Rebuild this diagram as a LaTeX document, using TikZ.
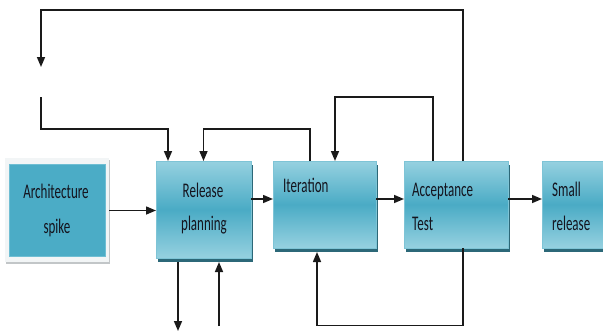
\documentclass[tikz,border=0pt]{standalone}
\usepackage{fontspec}
\setmainfont{Carlito}
\usetikzlibrary{arrows.meta,shadows}
\definecolor{boxlight}{HTML}{96D1E0}
\definecolor{boxmid}{HTML}{4AABC5}
\definecolor{boxedge}{HTML}{7EC4D6}
\definecolor{boxshadow}{HTML}{2C6878}
\definecolor{spikefill}{HTML}{4BACC6}
\definecolor{spikeedge}{HTML}{6FBED3}
\definecolor{framefill}{HTML}{F2F5F6}
\definecolor{frameshadow}{HTML}{C2C6C8}
\definecolor{ink}{HTML}{14141E}
\definecolor{wire}{HTML}{1A1A1A}
% labels are drawn tall and narrow
\newcommand\tallword[1]{\scalebox{1}[1.6]{#1}}

\begin{document}
\begin{tikzpicture}[x=1pt,y=-1pt,
  stage/.style={draw=boxedge, line width=0.8pt,
    top color=boxlight, bottom color=boxlight, middle color=boxmid,
    inner sep=0pt, outer sep=0pt,
    drop shadow={shadow xshift=2pt, shadow yshift=-4pt, fill=boxshadow, opacity=1}},
  spikeframe/.style={fill=framefill, inner sep=0pt, outer sep=0pt,
    minimum width=104pt, minimum height=104pt,
    drop shadow={shadow xshift=1pt, shadow yshift=-2pt, fill=frameshadow, opacity=1}},
  spikebox/.style={fill=spikefill, draw=spikeedge, line width=0.6pt,
    inner sep=0pt, outer sep=0pt, minimum width=96pt, minimum height=92pt},
  txt/.style={font=\fontsize{13}{15}\selectfont, text=ink, inner sep=0pt},
  wire/.style={draw=wire, line width=1.5pt},
  arr/.style={wire, -{Triangle[length=10pt,width=8pt]}}]

\useasboundingbox (0,0) rectangle (603,333);
\clip (0,0) rectangle (603,333);

% process boxes
\node[spikeframe] (archframe) at (57,210) {};
\node[spikebox] (arch) at (57,210) {};
\node[stage, minimum width=95pt, minimum height=97pt] (rel) at (203.5,209.5) {};
\node[stage, minimum width=103pt, minimum height=87pt] (iter) at (324.5,204.5) {};
\node[stage, minimum width=104pt, minimum height=87pt] (acc) at (456,204.5) {};
\node[stage, minimum width=104pt, minimum height=87pt] (small) at (594,204.5) {};

% box labels
\node[txt, anchor=base] (archA) at (56,198) {\tallword{Architecture}};
\node[txt, anchor=base] (archB) at (57,233) {\tallword{spike}};
\node[txt, anchor=base] (relA) at (203,197) {\tallword{Release}};
\node[txt, anchor=base] (relB) at (204,230) {\tallword{planning}};
\node[txt, anchor=base west] (iterA) at (283,192) {\tallword{Iteration}};
\node[txt, anchor=base west] (accA) at (412,196) {\tallword{Acceptance}};
\node[txt, anchor=base west] (accB) at (412,230) {\tallword{Test}};
\node[txt, anchor=base west] (smallA) at (552,196) {\tallword{Small}};
\node[txt, anchor=base west] (smallB) at (552,230) {\tallword{release}};

% free ends of the open connectors
\coordinate (flowrow) at (0,199);
\coordinate (spikerow) at (0,210.5);
\coordinate (loopEnd) at (41,67);
\coordinate (loopStart) at (41,97);
\coordinate (relOut) at (178,331);
\coordinate (relIn) at (219,326);

% main flow
\draw[arr] (archframe.east |- spikerow) -- (rel.west |- spikerow);
\draw[arr] (rel.east |- flowrow) -- (iter.west |- flowrow);
\draw[arr] (iter.east |- flowrow) -- (acc.west |- flowrow);
\draw[arr] (acc.east |- flowrow) -- (small.west |- flowrow);

% feedback loops above
\draw[arr] ([xshift=7pt]acc.north) -- ++(0,-151) -| (loopEnd);
\draw[arr] (loopStart) -- ++(0,32) -| ([xshift=-35.5pt]rel.north);
\draw[arr] ([xshift=-14.5pt]iter.north) -- ++(0,-32) -| (rel.north);
\draw[arr] ([xshift=-23pt]acc.north) -- ++(0,-64) -| ([xshift=10.5pt]iter.north);

% feedback loop below
\draw[arr] ([xshift=7pt]acc.south) -- ++(0,77.5) -| ([xshift=-7.5pt,yshift=-4pt]iter.south);

% release planning in and out
\draw[arr] ([xshift=-25.5pt,yshift=-4pt]rel.south) -- (relOut);
\draw[arr] (relIn) -- ([xshift=15.5pt,yshift=-4pt]rel.south);
\end{tikzpicture}
\end{document}
